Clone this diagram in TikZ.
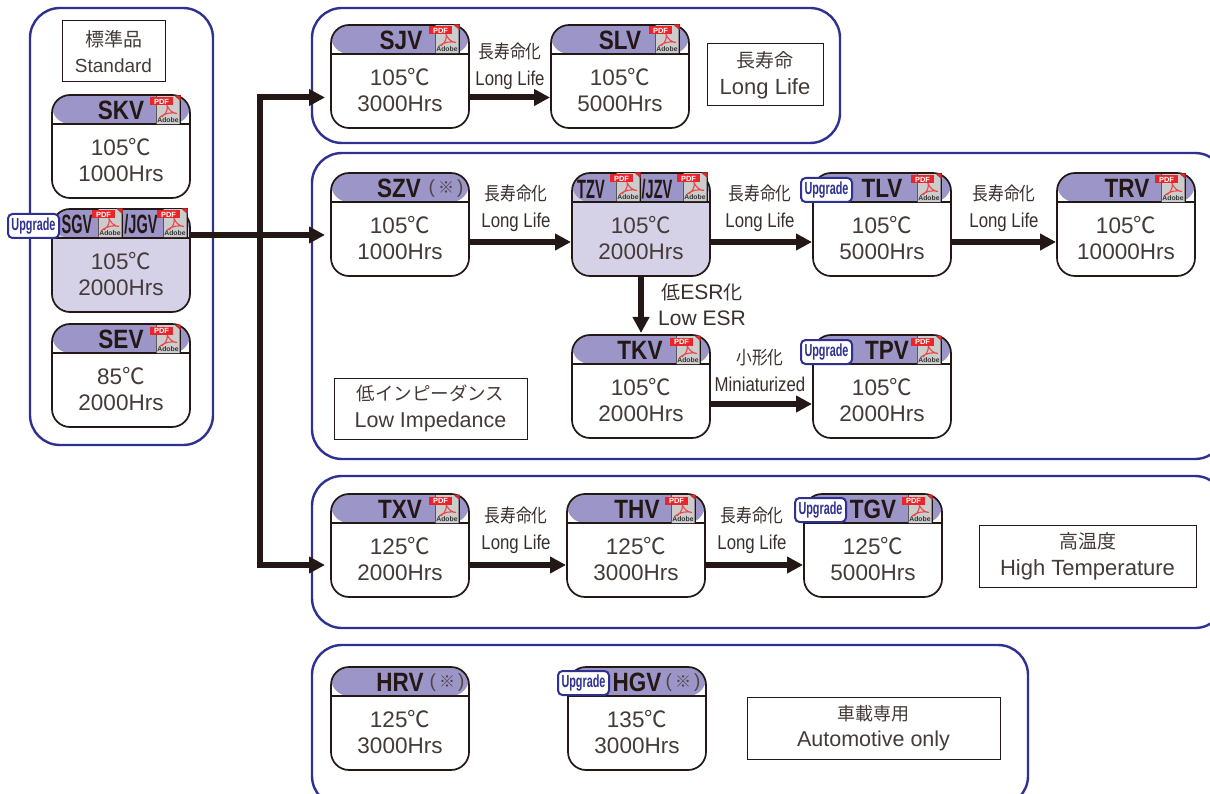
\documentclass[tikz,border=0pt]{standalone}
\usepackage{fontspec}
\setmainfont{Liberation Sans}
\newfontfamily\cjk{Noto Sans CJK JP}
\newfontfamily\cjkc[FakeStretch=0.85]{Noto Sans CJK JP}
\newfontfamily\cond[FakeStretch=0.84]{Liberation Sans}
\newfontfamily\titleA[FakeStretch=0.85]{Liberation Sans}
\newfontfamily\titleB[FakeStretch=0.55]{Liberation Sans}
\newfontfamily\upg[FakeStretch=0.62]{Liberation Sans}
\usetikzlibrary{arrows.meta,calc}
\definecolor{headc}{HTML}{9C95C7}
\definecolor{softc}{HTML}{D5D2E8}
\definecolor{inkc}{HTML}{231815}
\definecolor{bluec}{HTML}{2E3192}
\definecolor{redc}{HTML}{E8262A}
\tikzset{
 group/.style={draw=bluec,line width=2.4pt,rounded corners=30pt,fill=white},
 cardbox/.style={draw=inkc,line width=1.7pt,rounded corners=18pt,anchor=north west,
   minimum width=138pt,minimum height=103pt,inner sep=0pt,outer sep=0pt,
   path picture={\fill[headc] (path picture bounding box.north west) rectangle ([yshift=-29pt]path picture bounding box.north east);
   \draw[inkc,line width=1.5pt] ([yshift=-29pt]path picture bounding box.north west) -- ([yshift=-29pt]path picture bounding box.north east);}},
 plain/.style={fill=white},
 soft/.style={fill=softc},
 body/.style={font=\fontsize{22.5}{26}\selectfont,align=center,text=inkc!85!white,inner sep=0pt},
 tagbox/.style={draw=inkc,line width=1pt,fill=white,align=center,inner sep=0pt,outer sep=0pt,anchor=north west,text=inkc!85!white},
 link/.style={draw=inkc,line width=6pt,-{Triangle[length=16pt,width=16pt]},shorten >=1pt},
 trunkline/.style={draw=inkc,line width=6.5pt},
 arrowtxt/.style={font=\fontsize{18.5}{27}\selectfont,align=center,text=inkc!90!white,inner sep=0pt},
 ttlA/.style={font=\titleA\bfseries\fontsize{26.5}{26}\selectfont,text=inkc,inner sep=0pt},
 ttlB/.style={font=\titleB\bfseries\fontsize{26.5}{26}\selectfont,text=inkc,inner sep=0pt},
 note/.style={font=\fontsize{19}{19}\selectfont,text=inkc!80!white,inner sep=0pt},
 badge/.style={draw=bluec,line width=2pt,fill=white,rounded corners=4.5pt,text=bluec,
   font=\upg\bfseries\fontsize{17.5}{17.5}\selectfont,inner sep=0pt,minimum width=51pt,minimum height=24pt,anchor=north west},
}
\newcommand{\Cdeg}{{\cjk ℃}}
\newcommand{\card}[6]{%
 \node[cardbox,#4] (#1) at (#2,#3) {};
 \node[body] (#1-val) at ($(#1.north)+(0,-65.5pt)$) {#5\Cdeg\\#6};
}
\newcommand{\pdficon}[3]{%
 \begin{scope}[shift={(#1.north west)},xshift=#2pt,yshift=-#3pt]
  \fill[inkc] (0,-0.5) rectangle (24.5,29);
  \fill[black!20] (0.7,0.2) -- (19,0.2) -- (23.7,4.5) -- (23.7,28.2) -- (0.7,28.2) -- cycle;
  \fill[redc] (19,-0.5) -- (24.5,-0.5) -- (24.5,5) -- cycle;
  \draw[redc!85!white,line width=1.1pt] (6,21) .. controls (11,17) and (12,12) .. (11,9.5) .. controls (13,14) and (16,17) .. (21,17.5) .. controls (16,16) and (9,17) .. (4,21);
  \fill[redc] (-6,1.5) rectangle (17,9.5);
  \node[inner sep=0pt,text=white,font=\bfseries\fontsize{7.5}{7.5}\selectfont] at (5.5,5.5) {PDF};
  \node[inner sep=0pt,text=black!80,font=\bfseries\fontsize{6.8}{6.8}\selectfont] at (12,24.5) {Adobe};
 \end{scope}}
\newcommand{\mnote}[3]{\node[note] (#1) at (#2,#3) {(\,{\cjk\fontsize{16}{16}\selectfont ※}\,)};}
\begin{document}
\begin{tikzpicture}[x=1pt,y=-1pt]
\useasboundingbox (0,0) rectangle (1210,794);
\fill[white] (0,0) rectangle (1210,794);
\clip (0,0) rectangle (1210,794);
% groups
\draw[group] (30,8) rectangle (213,445);
\draw[group] (312,8) rectangle (840,143);
\draw[group] (312,153) rectangle (1225,459);
\draw[group] (312,476) rectangle (1225,628);
\draw[group] (312,645) rectangle (1028,806);
% tags
\node[tagbox,minimum width=103pt,minimum height=61pt,font=\fontsize{19}{26}\selectfont] (tagstd) at (62,21) {{\cjk 標準品}\\Standard};
\node[tagbox,minimum width=116pt,minimum height=62pt,font=\fontsize{22}{27}\selectfont] (taglong) at (707,44) {{\cjk\fontsize{19}{27}\selectfont 長寿命}\\Long Life};
\node[tagbox,minimum width=193pt,minimum height=61pt,font=\fontsize{21.5}{27}\selectfont] (tagimp) at (334,378) {{\cjk\fontsize{18.5}{27}\selectfont 低インピーダンス}\\Low Impedance};
\node[tagbox,minimum width=217pt,minimum height=62pt,font=\fontsize{22}{27}\selectfont] (taghigh) at (979,525) {{\cjk\fontsize{19}{27}\selectfont 高温度}\\High Temperature};
\node[tagbox,minimum width=253pt,minimum height=62pt,font=\fontsize{21.5}{26}\selectfont] (tagauto) at (747,697) {{\cjk\fontsize{18}{26}\selectfont 車載専用}\\Automotive only};
% cards
\card{skv}{52}{95}{plain}{105}{1000Hrs}
\card{sgv}{52}{209}{soft}{105}{2000Hrs}
\card{sev}{52}{324}{plain}{85}{2000Hrs}
\card{sjv}{331}{25}{plain}{105}{3000Hrs}
\card{slv}{551}{25}{plain}{105}{5000Hrs}
\card{szv}{331}{173}{plain}{105}{1000Hrs}
\card{tzv}{572}{173}{soft}{105}{2000Hrs}
\card{tlv}{813}{173}{plain}{105}{5000Hrs}
\card{trv}{1057}{173}{plain}{105}{10000Hrs}
\card{tkv}{572}{335}{plain}{105}{2000Hrs}
\card{tpv}{813}{335}{plain}{105}{2000Hrs}
\card{txv}{331}{494}{plain}{125}{2000Hrs}
\card{thv}{567}{494}{plain}{125}{3000Hrs}
\card{tgv}{804}{494}{plain}{125}{5000Hrs}
\card{hrv}{331}{667}{plain}{125}{3000Hrs}
\card{hgv}{568}{667}{plain}{135}{3000Hrs}
% titles
\node[ttlA] (tskv) at (121,110) {SKV};
\node[ttlB] (tsgv) at (77,224) {SGV};
\node[ttlB] (tjgv) at (141,224) {/JGV};
\node[ttlA] (tsev) at (121,339) {SEV};
\node[ttlA] (tsjv) at (401,40) {SJV};
\node[ttlA] (tslv) at (620,40) {SLV};
\node[ttlA] (tszv) at (399,188) {SZV};
\mnote{nszv}{446}{189}
\node[ttlB] (ttzv) at (591,189) {TZV};
\node[ttlB] (tjzv) at (657,189) {/JZV};
\node[ttlA] (ttlv) at (882,188) {TLV};
\node[ttlA] (ttrv) at (1127,188) {TRV};
\node[ttlA] (ttkv) at (640,350) {TKV};
\node[ttlA] (ttpv) at (887,350) {TPV};
\node[ttlA] (ttxv) at (400,509) {TXV};
\node[ttlA] (tthv) at (637,509) {THV};
\node[ttlA] (ttgv) at (873,509) {TGV};
\node[ttlA] (thrv) at (400,682) {HRV};
\mnote{nhrv}{447}{683}
\node[ttlA] (thgv) at (637,682) {HGV};
\mnote{nhgv}{683}{683}
% pdf icons
\pdficon{skv}{104}{1}
\pdficon{sgv}{46}{0}
\pdficon{sgv}{111}{0}
\pdficon{sev}{104}{1}
\pdficon{sjv}{104}{0}
\pdficon{slv}{104}{0}
\pdficon{tzv}{44}{0}
\pdficon{tzv}{111}{0}
\pdficon{tlv}{104}{1}
\pdficon{trv}{104}{1}
\pdficon{tkv}{104}{1}
\pdficon{tpv}{104}{1}
\pdficon{txv}{104}{1}
\pdficon{thv}{104}{1}
\pdficon{tgv}{104}{1}
% trunk connectors
\coordinate (hub) at (260,235);
\coordinate (hubtop) at (260,97.5);
\coordinate (hubbot) at (260,565);
\draw[trunkline] (sgv.east |- hub) -- (hub);
\draw[trunkline] ([yshift=3.25pt]hubtop) -- ([yshift=-3.25pt]hubbot);
\draw[link,shorten >=6pt] (hubtop) -- (sjv.west |- hubtop);
\draw[link,shorten >=6pt] (hub) -- (szv.west |- hub);
\draw[link,shorten >=6pt] (hubbot) -- (txv.west |- hubbot);
% links
\coordinate (ra) at (0,97.5);
\coordinate (rb) at (0,242);
\coordinate (rc) at (0,404);
\coordinate (rd) at (0,565);
\draw[link] (sjv.east |- ra) -- (slv.west |- ra);
\draw[link] (szv.east |- rb) -- (tzv.west |- rb);
\draw[link] (tzv.east |- rb) -- (tlv.west |- rb);
\draw[link] (tlv.east |- rb) -- (trv.west |- rb);
\draw[link,shorten >=2pt] (tzv.south -| tkv.north) -- (tkv.north);
\draw[link] (tkv.east |- rc) -- (tpv.west |- rc);
\draw[link] (txv.east |- rd) -- (thv.west |- rd);
\draw[link] (thv.east |- rd) -- (tgv.west |- rd);
% arrow labels
\newcommand{\lifelabel}{{\cjkc 長寿命化}\\{\cond\fontsize{20}{27}\selectfont Long Life}}
\node[arrowtxt] (la) at (510,66) {\lifelabel};
\node[arrowtxt] (lb) at (516,208) {\lifelabel};
\node[arrowtxt] (lc) at (760,208) {\lifelabel};
\node[arrowtxt] (ld) at (1004,208) {\lifelabel};
\node[arrowtxt,font=\fontsize{21}{26}\selectfont] (le) at (702,305) {{\cjk\fontsize{19}{26}\selectfont 低}{ESR}{\cjk\fontsize{19}{26}\selectfont 化}\\Low ESR};
\node[arrowtxt] (lf) at (760,370) {{\cjkc 小形化}\\{\cond\fontsize{20}{27}\selectfont Miniaturized}};
\node[arrowtxt] (lg) at (516,530) {\lifelabel};
\node[arrowtxt] (lh) at (752,530) {\lifelabel};
% upgrade badges
\node[badge] (usgv) at (7,213) {Upgrade};
\node[badge] (utlv) at (800,177) {Upgrade};
\node[badge] (utpv) at (800,339) {Upgrade};
\node[badge] (utgv) at (794,497) {Upgrade};
\node[badge] (uhgv) at (557,670) {Upgrade};
\end{tikzpicture}
\end{document}
